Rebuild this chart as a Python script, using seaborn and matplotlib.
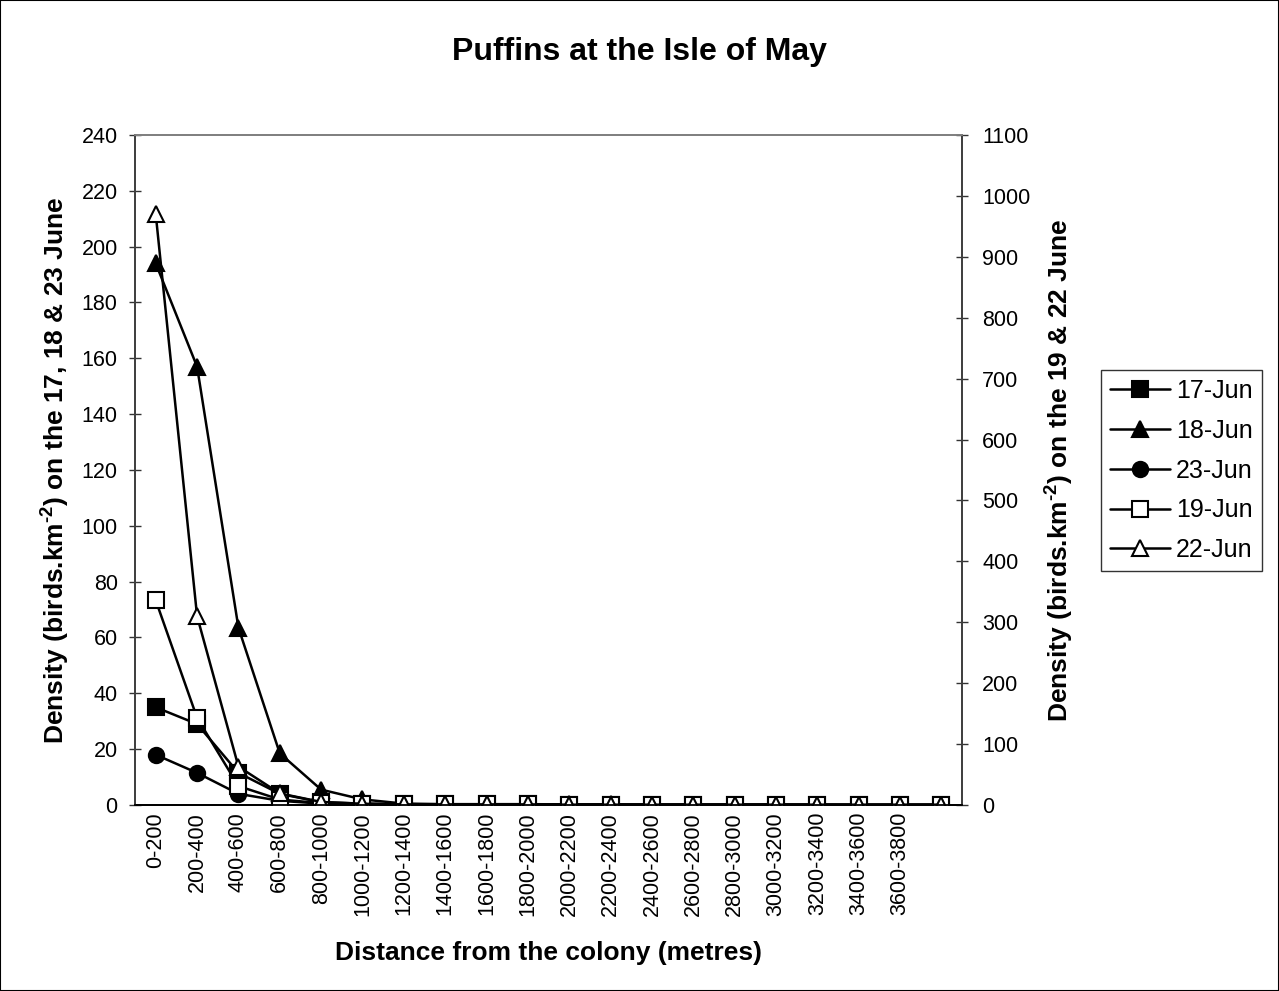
import numpy as np
import pandas as pd
import seaborn as sns
import matplotlib.pyplot as plt
from matplotlib.patches import Rectangle

# distance bands (last category has no label in the original)
categories = ["0-200", "200-400", "400-600", "600-800", "800-1000", "1000-1200",
              "1200-1400", "1400-1600", "1600-1800", "1800-2000", "2000-2200",
              "2200-2400", "2400-2600", "2600-2800", "2800-3000", "3000-3200",
              "3200-3400", "3400-3600", "3600-3800", ""]

# left axis series (17, 18 & 23 June)
jun17 = [35, 29, 11.5, 4, 1, 0.5, 0.3, 0.2, 0.2, 0.2, 0.1, 0.1, 0.1, 0.1, 0.1, 0.1, 0, 0, 0, 0]
jun18 = [194, 157, 63.5, 18.5, 5.5, 2, 0.5, 0.3, 0.3, 0.3, 0.2, 0.2, 0.1, 0.1, 0.1, 0.1, 0.1, 0, 0, 0]
jun23 = [18, 11.5, 4, 1.5, 0.5, 0.3, 0.2, 0.1, 0.1, 0.1, 0.1, 0, 0, 0, 0, 0, 0, 0, 0, 0]
# right axis series (19 & 22 June)
jun19 = [336, 143, 31, 9, 3, 1.5, 1, 1, 1, 1, 0.5, 0.5, 0.5, 0.5, 0.5, 0.5, 0.5, 0.5, 0.5, 0.5]
jun22 = [970, 310, 63, 19, 5, 2, 1, 1, 1, 1, 0.5, 0.5, 0.5, 0.5, 0.5, 0.5, 0.5, 0.5, 0.5, 0.5]

sns.set_style("white")
plt.rcParams["font.family"] = ["Liberation Sans", "DejaVu Sans"]
plt.rcParams["text.color"] = "black"
plt.rcParams["axes.labelcolor"] = "black"
plt.rcParams["xtick.color"] = "black"
plt.rcParams["ytick.color"] = "black"
plt.rcParams["mathtext.fontset"] = "custom"
plt.rcParams["mathtext.rm"] = "Liberation Sans:bold"
plt.rcParams["mathtext.bf"] = "Liberation Sans:bold"
plt.rcParams["mathtext.default"] = "bf"

pos = np.arange(len(categories))
df = pd.DataFrame({"pos": pos, "17-Jun": jun17, "18-Jun": jun18, "23-Jun": jun23,
                   "19-Jun": jun19, "22-Jun": jun22})

fig = plt.figure(figsize=(12.79, 9.91), dpi=100)
ax = fig.add_axes([0.1056, 0.1877, 0.6466, 0.6761])
ax2 = ax.twinx()

line_kw = dict(color="black", linewidth=1.8, markersize=11, markeredgewidth=1.5,
               markeredgecolor="black")
styles = {
    "17-Jun": (ax, "s", "black"),
    "18-Jun": (ax, "^", "black"),
    "23-Jun": (ax, "o", "black"),
    "19-Jun": (ax2, "s", "white"),
    "22-Jun": (ax2, "^", "white"),
}
for name, (a, mk, fc) in styles.items():
    sns.lineplot(data=df, x="pos", y=name, ax=a, marker=mk, markerfacecolor=fc,
                 label=name, legend=False, **line_kw)

for a in (ax, ax2):
    if a.get_legend() is not None:
        a.get_legend().remove()

ax.set_xlim(-0.5, len(categories) - 0.5)
ax.set_ylim(0, 240)
ax2.set_ylim(0, 1100)
ax.set_yticks(np.arange(0, 241, 20))
ax2.set_yticks(np.arange(0, 1101, 100))

ax.set_xticks(pos)
ax.set_xticklabels(categories, rotation=90, fontsize=15.5)
ax.set_xticks(np.arange(-0.5, len(categories)), minor=True)
ax.tick_params(axis="x", which="major", length=0, pad=5)
ax.tick_params(axis="x", which="minor", direction="inout", length=9, width=1, color="black")
ax.tick_params(axis="y", direction="inout", length=9, width=1, labelsize=15.5, color="#333333", pad=8)
ax2.tick_params(axis="y", direction="inout", length=9, width=1, labelsize=15.5, color="#333333", pad=10)

ax.set_xlabel("Distance from the colony (metres)", fontsize=19, fontweight="bold")
ax.xaxis.set_label_coords(0.5, -0.203)
ax.set_ylabel("Density (birds.km$^{\\text{-2}}$) on the 17, 18 & 23 June", fontsize=19,
              fontweight="bold")
ax.yaxis.set_label_coords(-0.076, 0.5)
ax2.set_ylabel("Density (birds.km$^{\\text{-2}}$) on the 19 & 22 June", fontsize=19,
               fontweight="bold", rotation=90)
ax2.yaxis.set_label_coords(1.099, 0.5)

for a in (ax, ax2):
    a.spines["top"].set_color("#808080")
    a.spines["bottom"].set_color("black")
    a.spines["left"].set_color("#404040")
    a.spines["right"].set_color("#404040")
    for s in a.spines.values():
        s.set_linewidth(1.3)

fig.text(0.5, 1 - 52 / 991, "Puffins at the Isle of May", ha="center", va="center",
         fontsize=23, fontweight="bold")

handles = {}
for a in (ax, ax2):
    for ln in a.get_lines():
        handles[ln.get_label()] = ln
order = ["17-Jun", "18-Jun", "23-Jun", "19-Jun", "22-Jun"]
leg = fig.legend([handles[k] for k in order], order, loc="center left",
                 bbox_to_anchor=(0.861, 0.525), fontsize=18, frameon=True,
                 fancybox=False, handlelength=2.4, handletextpad=0.25,
                 labelspacing=0.63, borderpad=0.35, borderaxespad=0)
leg.get_frame().set_edgecolor("black")
leg.get_frame().set_linewidth(1)

fig.patches.append(Rectangle((0, 0), 1, 1, transform=fig.transFigure, fill=False,
                             edgecolor="black", linewidth=1.5))

fig.savefig("out.png", dpi=100)
